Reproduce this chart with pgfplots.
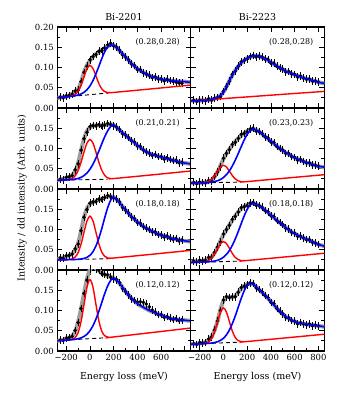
\documentclass[border=0pt]{standalone}
\usepackage{fontspec}
\setmainfont{DejaVu Serif}
\usepackage{pgfplots}
\pgfplotsset{compat=1.18}
\definecolor{totgray}{rgb}{0.62,0.62,0.62}

\pgfplotsset{
  panel/.style={
    scale only axis, width=133.5bp, height=81bp,
    xmin=-275, xmax=850, ymin=0, ymax=0.2,
    xtick={-200,0,200,400,600,800}, minor x tick num=1,
    ytick={0,0.05,0.1,0.15,0.2}, minor y tick num=1,
    tick align=inside, major tick length=5bp, minor tick length=3bp,
    every tick/.style={black, line width=0.8bp},
    axis line style={line width=1.2bp},
    xticklabels={}, yticklabels={},
    tick label style={font=\fontsize{8.5}{10}\selectfont},
    clip marker paths=true,
  },
  ylab/.style={yticklabels={0.00,0.05,0.10,0.15,{}}},
  ylabtop/.style={yticklabels={0.00,0.05,0.10,0.15,0.20}},
  total/.style={smooth, line width=4bp, totgray, no marks},
  redc/.style={smooth, red, line width=1.4bp, no marks},
  bluec/.style={smooth, blue, line width=1.6bp, no marks},
  bgc/.style={black, line width=0.9bp, no marks, dash pattern=on 4bp off 3bp},
  dat/.style={only marks, mark=*, mark size=1.6bp, black,
    error bars/.cd, y dir=both, y fixed=0.006,
    error bar style={line width=0.6bp, black},
    error mark options={line width=0.6bp, mark size=1.4bp, black}},
}
\newcommand{\lab}[1]{\node[anchor=east, font=\fontsize{8}{10}\selectfont] at (rel axis cs:0.944,0.818) {#1};}

\begin{document}
\begin{tikzpicture}
\useasboundingbox (0,0) rectangle (338bp,400bp);

% ---------- row 1 ----------
\begin{axis}[panel, ylabtop, at={(57.3bp,292bp)}]
\addplot[total] coordinates {(-275,.025)(-250,.026)(-225,.027)(-200,.028)(-175,.031)(-150,.035)(-125,.039)(-100,.046)(-75,.064)(-50,.088)(-25,.106)(0,.117)(25,.126)(50,.133)(75,.138)(100,.143)(125,.148)(150,.153)(175,.156)(200,.155)(225,.149)(250,.141)(275,.134)(300,.126)(325,.118)(350,.110)(375,.103)(400,.097)(425,.092)(450,.088)(475,.084)(500,.080)(525,.077)(550,.075)(575,.073)(600,.071)(625,.070)(650,.069)(675,.068)(700,.067)(725,.066)(750,.066)(775,.065)(800,.065)(825,.064)(850,.064)};
\addplot[dat] coordinates {(-250,.027)(-225,.025)(-200,.030)(-175,.031)(-150,.034)(-125,.042)(-100,.044)(-75,.065)(-50,.088)(-25,.103)(0,.119)(25,.127)(50,.132)(75,.140)(100,.141)(125,.148)(150,.156)(175,.160)(200,.153)(225,.150)(250,.143)(275,.131)(300,.126)(325,.119)(350,.109)(375,.105)(400,.095)(425,.095)(450,.087)(475,.084)(500,.081)(525,.075)(550,.077)(575,.072)(600,.072)(625,.067)(650,.071)(675,.068)(700,.066)(725,.064)(750,.062)(775,.061)};
\addplot[bgc] coordinates {(-275,.0253)(150,.037)};
\addplot[redc] coordinates {(-275,.025)(-250,.026)(-225,.0267)(-200,.0274)(-175,.0285)(-150,.030)(-125,.0335)(-100,.0415)(-75,.0563)(-50,.077)(-25,.0965)(0,.105)(25,.0978)(50,.0797)(75,.0604)(100,.047)(125,.0404)(150,.0381)(175,.038)(200,.0384)(500,.0467)(850,.0566)};
\addplot[bluec] coordinates {(-275,.0253)(-250,.026)(-225,.0267)(-200,.0274)(-175,.0282)(-150,.0291)(-125,.0303)(-100,.032)(-75,.0346)(-50,.0387)(-25,.0451)(0,.0545)(25,.0674)(50,.0839)(75,.1028)(100,.1221)(125,.1391)(150,.151)(175,.1557)(200,.155)(225,.149)(250,.141)(275,.134)(300,.126)(325,.118)(350,.110)(375,.103)(400,.097)(425,.092)(450,.088)(475,.084)(500,.080)(525,.077)(550,.075)(575,.073)(600,.071)(625,.070)(650,.069)(675,.068)(700,.067)(725,.066)(750,.066)(775,.065)(800,.065)(825,.064)(850,.064)};
\lab{(0.28,0.28)}
\end{axis}

\begin{axis}[panel, at={(190.8bp,292bp)}]
\addplot[total] coordinates {(-275,.018)(-250,.018)(-225,.018)(-200,.018)(-175,.019)(-150,.019)(-125,.020)(-100,.021)(-75,.023)(-50,.026)(-25,.031)(0,.039)(25,.052)(50,.067)(75,.081)(100,.093)(125,.103)(150,.111)(175,.118)(200,.123)(225,.126)(250,.128)(275,.129)(300,.128)(325,.125)(350,.122)(375,.118)(400,.113)(425,.108)(450,.104)(475,.099)(500,.095)(525,.091)(550,.088)(575,.085)(600,.082)(625,.079)(650,.077)(675,.074)(700,.072)(725,.070)(750,.068)(775,.066)(800,.064)(825,.062)(850,.061)};
\addplot[dat] coordinates {(-250,.019)(-225,.016)(-200,.020)(-175,.019)(-150,.018)(-125,.023)(-100,.019)(-75,.024)(-50,.026)(-25,.028)(0,.041)(25,.053)(50,.066)(75,.083)(100,.091)(125,.103)(150,.114)(175,.117)(200,.121)(225,.127)(250,.130)(275,.126)(300,.128)(325,.126)(350,.121)(375,.120)(400,.111)(425,.111)(450,.103)(475,.099)(500,.096)(525,.089)(550,.090)(575,.084)(600,.083)(625,.076)(650,.079)(675,.074)(700,.071)(725,.072)(750,.066)(775,.067)(800,.064)};
\addplot[redc] coordinates {(-275,.0175)(200,.0274)(500,.0338)(850,.041)};
\addplot[bluec] coordinates {(-275,.018)(-250,.018)(-225,.018)(-200,.018)(-175,.019)(-150,.019)(-125,.020)(-100,.021)(-75,.023)(-50,.026)(-25,.031)(0,.039)(25,.052)(50,.067)(75,.081)(100,.093)(125,.103)(150,.111)(175,.118)(200,.123)(225,.126)(250,.128)(275,.129)(300,.128)(325,.125)(350,.122)(375,.118)(400,.113)(425,.108)(450,.104)(475,.099)(500,.095)(525,.091)(550,.088)(575,.085)(600,.082)(625,.079)(650,.077)(675,.074)(700,.072)(725,.070)(750,.068)(775,.066)(800,.064)(825,.062)(850,.061)};
\lab{(0.28,0.28)}
\end{axis}

% ---------- row 2 ----------
\begin{axis}[panel, ylab, at={(57.3bp,211bp)}]
\addplot[total] coordinates {(-275,.022)(-250,.023)(-225,.025)(-200,.027)(-175,.030)(-150,.034)(-125,.044)(-100,.064)(-75,.095)(-50,.124)(-25,.143)(0,.152)(25,.156)(50,.157)(75,.157)(100,.157)(125,.158)(150,.159)(175,.160)(200,.158)(225,.152)(250,.145)(275,.139)(300,.133)(325,.126)(350,.120)(375,.114)(400,.108)(425,.102)(450,.097)(475,.092)(500,.088)(525,.085)(550,.083)(575,.081)(600,.079)(625,.077)(650,.075)(675,.073)(700,.071)(725,.069)(750,.067)(775,.065)(800,.064)(825,.063)(850,.062)};
\addplot[dat] coordinates {(-250,.024)(-225,.023)(-200,.029)(-175,.030)(-150,.033)(-125,.047)(-100,.062)(-75,.096)(-50,.124)(-25,.140)(0,.154)(25,.157)(50,.156)(75,.159)(100,.155)(125,.158)(150,.162)(175,.159)(200,.156)(225,.153)(250,.147)(275,.136)(300,.133)(325,.127)(350,.119)(375,.116)(400,.106)(425,.105)(450,.096)(475,.092)(500,.089)(525,.083)(550,.085)(575,.080)(600,.080)(625,.074)(650,.077)(675,.073)(700,.070)(725,.071)(750,.065)(775,.066)};
\addplot[bgc] coordinates {(-275,.0219)(150,.024)};
\addplot[redc] coordinates {(-275,.0219)(-250,.022)(-225,.0222)(-200,.0226)(-175,.0234)(-150,.026)(-125,.0323)(-100,.0452)(-75,.0658)(-50,.0913)(-25,.1133)(0,.1223)(25,.1136)(50,.0918)(75,.0665)(100,.0462)(125,.0336)(150,.0275)(175,.0257)(200,.0258)(500,.0342)(850,.0445)};
\addplot[bluec] coordinates {(-275,.022)(-250,.022)(-225,.022)(-200,.0225)(-175,.0228)(-150,.0233)(-125,.0243)(-100,.026)(-75,.0287)(-50,.0331)(-25,.0395)(0,.0488)(25,.0609)(50,.076)(75,.0933)(100,.1118)(125,.1294)(150,.144)(175,.1544)(200,.1585)(225,.152)(250,.145)(275,.139)(300,.133)(325,.126)(350,.120)(375,.114)(400,.108)(425,.102)(450,.097)(475,.092)(500,.088)(525,.085)(550,.083)(575,.081)(600,.079)(625,.077)(650,.075)(675,.073)(700,.071)(725,.069)(750,.067)(775,.065)(800,.064)(825,.063)(850,.062)};
\lab{(0.21,0.21)}
\end{axis}

\begin{axis}[panel, at={(190.8bp,211bp)}]
\addplot[total] coordinates {(-275,.015)(-250,.015)(-225,.015)(-200,.015)(-175,.016)(-150,.016)(-125,.018)(-100,.022)(-75,.030)(-50,.042)(-25,.058)(0,.074)(25,.087)(50,.098)(75,.108)(100,.117)(125,.125)(150,.132)(175,.138)(200,.143)(225,.147)(250,.148)(275,.146)(300,.142)(325,.136)(350,.130)(375,.124)(400,.118)(425,.112)(450,.106)(475,.100)(500,.095)(525,.090)(550,.086)(575,.081)(600,.077)(625,.074)(650,.071)(675,.068)(700,.065)(725,.063)(750,.061)(775,.058)(800,.056)(825,.055)(850,.054)};
\addplot[dat] coordinates {(-250,.016)(-225,.013)(-200,.017)(-175,.016)(-150,.015)(-125,.021)(-100,.020)(-75,.031)(-50,.042)(-25,.055)(0,.076)(25,.088)(50,.097)(75,.110)(100,.115)(125,.125)(150,.135)(175,.137)(200,.141)(225,.148)(250,.150)(275,.143)(300,.142)(325,.137)(350,.129)(375,.126)(400,.116)(425,.115)(450,.105)(475,.100)(500,.096)(525,.088)(550,.088)(575,.080)(600,.078)(625,.071)(650,.073)(675,.068)(700,.064)(725,.065)(750,.059)(775,.059)(800,.056)};
\addplot[bgc] coordinates {(-275,.0149)(150,.017)};
\addplot[redc] coordinates {(-275,.0149)(-250,.015)(-225,.0151)(-200,.0153)(-175,.0157)(-150,.0165)(-125,.0188)(-100,.0238)(-75,.0325)(-50,.0438)(-25,.054)(0,.0583)(25,.0543)(50,.0443)(75,.0332)(100,.0248)(125,.0201)(150,.018)(175,.018)(200,.0183)(500,.0262)(850,.0353)};
\addplot[bluec] coordinates {(-275,.0149)(-250,.015)(-225,.0151)(-200,.0154)(-175,.0155)(-150,.0158)(-125,.0162)(-100,.017)(-75,.0183)(-50,.0203)(-25,.0234)(0,.0283)(25,.0353)(50,.0447)(75,.0568)(100,.0715)(125,.0878)(150,.1047)(175,.1212)(200,.1348)(225,.144)(250,.1476)(275,.146)(300,.142)(325,.136)(350,.130)(375,.124)(400,.118)(425,.112)(450,.106)(475,.100)(500,.095)(525,.090)(550,.086)(575,.081)(600,.077)(625,.074)(650,.071)(675,.068)(700,.065)(725,.063)(750,.061)(775,.058)(800,.056)(825,.055)(850,.054)};
\lab{(0.23,0.23)}
\end{axis}

% ---------- row 3 ----------
\begin{axis}[panel, ylab, at={(57.3bp,130bp)}]
\addplot[total] coordinates {(-275,.028)(-250,.029)(-225,.031)(-200,.033)(-175,.036)(-150,.040)(-125,.049)(-100,.066)(-75,.096)(-50,.130)(-25,.152)(0,.163)(25,.167)(50,.170)(75,.173)(100,.176)(125,.179)(150,.181)(175,.182)(200,.180)(225,.174)(250,.166)(275,.157)(300,.148)(325,.140)(350,.132)(375,.125)(400,.119)(425,.113)(450,.108)(475,.103)(500,.099)(525,.096)(550,.092)(575,.089)(600,.086)(625,.084)(650,.082)(675,.079)(700,.077)(725,.076)(750,.074)(775,.073)(800,.072)(825,.071)(850,.070)};
\addplot[dat] coordinates {(-250,.030)(-225,.029)(-200,.035)(-175,.036)(-150,.039)(-125,.052)(-100,.064)(-75,.097)(-50,.130)(-25,.149)(0,.165)(25,.168)(50,.169)(75,.175)(100,.174)(125,.179)(150,.184)(175,.181)(200,.178)(225,.175)(250,.168)(275,.154)(300,.148)(325,.141)(350,.131)(375,.127)(400,.117)(425,.116)(450,.107)(475,.103)(500,.100)(525,.094)(550,.094)(575,.088)(600,.087)(625,.081)(650,.084)(675,.079)(700,.076)(725,.078)(750,.072)(775,.074)};
\addplot[bgc] coordinates {(-275,.0245)(150,.028)};
\addplot[redc] coordinates {(-275,.0245)(-250,.025)(-225,.0252)(-200,.0255)(-175,.026)(-150,.0275)(-125,.0318)(-100,.0427)(-75,.0637)(-50,.0933)(-25,.1211)(0,.1329)(25,.1215)(50,.0941)(75,.0648)(100,.0442)(125,.0337)(150,.0297)(175,.0291)(200,.0296)(500,.0382)(850,.0485)};
\addplot[bluec] coordinates {(-275,.0245)(-250,.025)(-225,.0252)(-200,.0254)(-175,.0256)(-150,.0258)(-125,.026)(-100,.0264)(-75,.0271)(-50,.0285)(-25,.0312)(0,.0363)(25,.0451)(50,.0589)(75,.0783)(100,.1026)(125,.1295)(150,.1542)(175,.1724)(200,.1795)(225,.174)(250,.166)(275,.157)(300,.148)(325,.140)(350,.132)(375,.125)(400,.119)(425,.113)(450,.108)(475,.103)(500,.099)(525,.096)(550,.092)(575,.089)(600,.086)(625,.084)(650,.082)(675,.079)(700,.077)(725,.076)(750,.074)(775,.073)(800,.072)(825,.071)(850,.070)};
\lab{(0.18,0.18)}
\end{axis}

\begin{axis}[panel, at={(190.8bp,130bp)}]
\addplot[total] coordinates {(-275,.021)(-250,.021)(-225,.022)(-200,.022)(-175,.023)(-150,.025)(-125,.028)(-100,.033)(-75,.042)(-50,.056)(-25,.072)(0,.087)(25,.099)(50,.111)(75,.123)(100,.134)(125,.143)(150,.151)(175,.157)(200,.161)(225,.164)(250,.165)(275,.163)(300,.159)(325,.154)(350,.148)(375,.142)(400,.136)(425,.129)(450,.123)(475,.117)(500,.111)(525,.105)(550,.099)(575,.094)(600,.090)(625,.086)(650,.082)(675,.079)(700,.076)(725,.073)(750,.070)(775,.066)(800,.063)(825,.061)(850,.059)};
\addplot[dat] coordinates {(-250,.022)(-225,.020)(-200,.024)(-175,.023)(-150,.024)(-125,.031)(-100,.031)(-75,.043)(-50,.056)(-25,.069)(0,.089)(25,.100)(50,.110)(75,.125)(100,.132)(125,.143)(150,.154)(175,.156)(200,.159)(225,.165)(250,.167)(275,.160)(300,.159)(325,.155)(350,.147)(375,.144)(400,.134)(425,.132)(450,.122)(475,.117)(500,.112)(525,.103)(550,.101)(575,.093)(600,.091)(625,.083)(650,.084)(675,.079)(700,.075)(725,.075)(750,.068)(775,.067)(800,.063)};
\addplot[bgc] coordinates {(-275,.0185)(150,.022)};
\addplot[redc] coordinates {(-275,.0185)(-250,.019)(-225,.0192)(-200,.0195)(-175,.0199)(-150,.021)(-125,.0236)(-100,.0295)(-75,.0397)(-50,.0529)(-25,.0649)(0,.0699)(25,.0653)(50,.0537)(75,.0408)(100,.031)(125,.0255)(150,.0232)(175,.023)(200,.0235)(500,.0317)(850,.0414)};
\addplot[bluec] coordinates {(-275,.0185)(-250,.019)(-225,.0192)(-200,.0194)(-175,.0197)(-150,.020)(-125,.0203)(-100,.021)(-75,.0221)(-50,.0239)(-25,.0268)(0,.0315)(25,.0384)(50,.048)(75,.0609)(100,.0769)(125,.0952)(150,.1147)(175,.1337)(200,.1497)(225,.1606)(250,.1648)(275,.163)(300,.159)(325,.154)(350,.148)(375,.142)(400,.136)(425,.129)(450,.123)(475,.117)(500,.111)(525,.105)(550,.099)(575,.094)(600,.090)(625,.086)(650,.082)(675,.079)(700,.076)(725,.073)(750,.070)(775,.066)(800,.063)(825,.061)(850,.059)};
\lab{(0.18,0.18)}
\end{axis}

% ---------- row 4 ----------
\begin{axis}[panel, ylab, at={(57.3bp,49bp)},
  xticklabels={−200,0,200,400,600,{}}]
\addplot[total] coordinates {(-275,.025)(-250,.026)(-225,.028)(-200,.030)(-175,.033)(-150,.037)(-125,.048)(-100,.072)(-75,.104)(-50,.142)(-25,.178)(0,.201)(25,.208)(50,.204)(75,.198)(100,.193)(125,.189)(150,.185)(175,.183)(200,.180)(225,.175)(250,.167)(275,.157)(300,.147)(325,.138)(350,.130)(375,.123)(400,.117)(425,.112)(450,.108)(475,.104)(500,.100)(525,.097)(550,.094)(575,.091)(600,.089)(625,.086)(650,.083)(675,.081)(700,.079)(725,.078)(750,.077)(775,.076)(800,.076)(825,.075)(850,.075)};
\addplot[dat] coordinates {(-250,.027)(-225,.026)(-200,.032)(-175,.033)(-150,.036)(-125,.051)(-100,.070)(-75,.105)(-50,.142)(-25,.175)(0,.203)(25,.209)(50,.203)(75,.200)(100,.191)(125,.189)(150,.188)(175,.182)(200,.178)(225,.176)(250,.169)(275,.154)(300,.147)(325,.139)(350,.129)(375,.125)(400,.121)(425,.122)(450,.120)(475,.116)(500,.109)(525,.101)(550,.096)(575,.090)(600,.090)(625,.083)(650,.085)(675,.081)(700,.078)(725,.080)(750,.075)(775,.077)};
\addplot[bgc] coordinates {(-275,.0256)(150,.033)};
\addplot[redc] coordinates {(-275,.0256)(-250,.026)(-225,.0264)(-200,.0269)(-175,.0275)(-150,.0289)(-125,.0331)(-100,.0452)(-75,.0722)(-50,.1143)(-25,.1574)(0,.1764)(25,.1583)(50,.1161)(75,.0748)(100,.0487)(125,.0375)(150,.0341)(175,.034)(200,.0347)(500,.0448)(850,.0567)};
\addplot[bluec] coordinates {(-275,.0256)(-250,.026)(-225,.0264)(-200,.0269)(-175,.0274)(-150,.0281)(-125,.0289)(-100,.0302)(-75,.0324)(-50,.0359)(-25,.0414)(0,.050)(25,.0621)(50,.0784)(75,.0981)(100,.120)(125,.1421)(150,.161)(175,.1743)(200,.1797)(225,.175)(250,.167)(275,.157)(300,.147)(325,.138)(350,.130)(375,.123)(400,.117)(425,.112)(450,.108)(475,.104)(500,.100)(525,.097)(550,.094)(575,.091)(600,.089)(625,.086)(650,.083)(675,.081)(700,.079)(725,.078)(750,.077)(775,.076)(800,.076)(825,.075)(850,.075)};
\lab{(0.12,0.12)}
\end{axis}

\begin{axis}[panel, at={(190.8bp,49bp)},
  xticklabels={−200,0,200,400,600,800}]
\addplot[total] coordinates {(-275,.017)(-250,.017)(-225,.018)(-200,.019)(-175,.020)(-150,.022)(-125,.027)(-100,.036)(-75,.051)(-50,.074)(-25,.103)(0,.124)(25,.133)(50,.133)(75,.132)(100,.136)(125,.145)(150,.154)(175,.161)(200,.165)(225,.167)(250,.165)(275,.159)(300,.152)(325,.145)(350,.138)(375,.130)(400,.122)(425,.114)(450,.106)(475,.098)(500,.091)(525,.085)(550,.080)(575,.076)(600,.073)(625,.070)(650,.068)(675,.067)(700,.066)(725,.065)(750,.064)(775,.063)(800,.062)(825,.061)(850,.060)};
\addplot[dat] coordinates {(-250,.018)(-225,.016)(-200,.021)(-175,.020)(-150,.021)(-125,.030)(-100,.034)(-75,.052)(-50,.074)(-25,.100)(0,.126)(25,.134)(50,.132)(75,.134)(100,.134)(125,.145)(150,.157)(175,.160)(200,.163)(225,.168)(250,.167)(275,.156)(300,.152)(325,.146)(350,.137)(375,.132)(400,.120)(425,.117)(450,.105)(475,.098)(500,.092)(525,.083)(550,.082)(575,.075)(600,.074)(625,.067)(650,.070)(675,.067)(700,.065)(725,.067)(750,.062)(775,.064)(800,.062)};
\addplot[bgc] coordinates {(-275,.0167)(150,.022)};
\addplot[redc] coordinates {(-275,.0167)(-250,.017)(-225,.0173)(-200,.0176)(-175,.0181)(-150,.0193)(-125,.0224)(-100,.0305)(-75,.0472)(-50,.0717)(-25,.0957)(0,.1061)(25,.0963)(50,.073)(75,.0491)(100,.033)(125,.0255)(150,.0231)(175,.0229)(200,.0234)(500,.0317)(850,.0414)};
\addplot[bluec] coordinates {(-275,.0167)(-250,.017)(-225,.0173)(-200,.0176)(-175,.0179)(-150,.0184)(-125,.0189)(-100,.0196)(-75,.0208)(-50,.0228)(-25,.0261)(0,.0315)(25,.0397)(50,.0517)(75,.0676)(100,.0869)(125,.1084)(150,.130)(175,.1489)(200,.162)(225,.1671)(250,.165)(275,.159)(300,.152)(325,.145)(350,.138)(375,.130)(400,.122)(425,.114)(450,.106)(475,.098)(500,.091)(525,.085)(550,.080)(575,.076)(600,.073)(625,.070)(650,.068)(675,.067)(700,.066)(725,.065)(750,.064)(775,.063)(800,.062)(825,.061)(850,.060)};
\lab{(0.12,0.12)}
\end{axis}

% ---------- titles and labels ----------
\node[anchor=base, font=\fontsize{9.5}{11}\selectfont] at (123.9bp,379.3bp) {Bi-2201};
\node[anchor=base, font=\fontsize{9.5}{11}\selectfont] at (257.5bp,379.3bp) {Bi-2223};
\node[anchor=base, font=\fontsize{9.5}{11}\selectfont] at (123.9bp,21bp) {Energy loss (meV)};
\node[anchor=base, font=\fontsize{9.5}{11}\selectfont] at (257.5bp,21bp) {Energy loss (meV)};
\node[rotate=90, font=\fontsize{9.5}{11}\selectfont] at (22bp,202bp) {Intensity / dd intensity (Arb. units)};
\end{tikzpicture}
\end{document}
